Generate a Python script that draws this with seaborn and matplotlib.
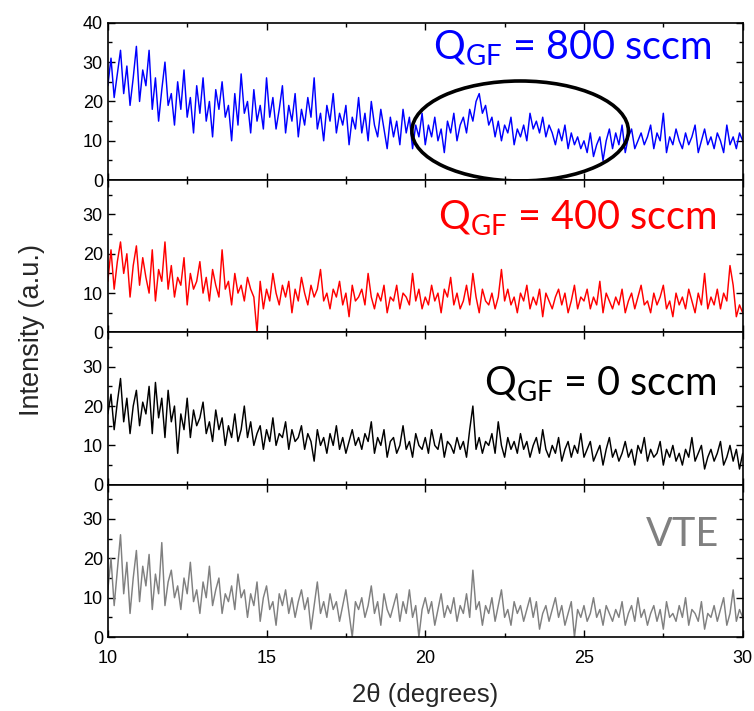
import numpy as np
import pandas as pd
import matplotlib
matplotlib.use("Agg")
import matplotlib.pyplot as plt
from matplotlib.patches import Ellipse
from matplotlib.ticker import MultipleLocator
import seaborn as sns

# ---------------- data (step 0.1 deg) ----------------
two_theta = np.round(np.linspace(10, 30, 201), 1)

q800 = [24, 31, 21, 27, 33, 22, 29, 19, 26, 34,
        20, 28, 24, 33, 18, 26, 15, 23, 30, 19,
        22, 14, 25, 18, 28, 16, 21, 12, 24, 17,
        26, 15, 20, 11, 23, 18, 25, 16, 19, 10,
        22, 14, 27, 17, 20, 12, 23, 15, 19, 13,
        26, 16, 21, 13, 18, 24, 12, 19, 15, 22,
        11, 18, 14, 21, 16, 26, 13, 17, 10, 19,
        15, 22, 12, 17, 14, 19, 9, 16, 13, 21,
        12, 17, 10, 20, 14, 11, 18, 13, 8, 16,
        11, 15, 9, 18, 12, 16, 8, 14, 11, 17,
        9, 14, 11, 16, 10, 13, 7, 15, 12, 17,
        10, 14, 16, 12, 18, 15, 20, 22, 17, 19,
        14, 16, 11, 15, 10, 14, 12, 16, 9, 13,
        11, 14, 10, 17, 13, 15, 12, 16, 11, 14,
        12, 9, 13, 10, 14, 8, 12, 9, 11, 8,
        10, 7, 12, 6, 9, 11, 5, 10, 13, 8,
        12, 9, 14, 7, 11, 13, 8, 10, 12, 9,
        11, 14, 8, 12, 10, 17, 7, 11, 9, 13,
        10, 8, 12, 9, 11, 14, 7, 10, 13, 9,
        11, 8, 12, 10, 7, 14, 9, 11, 8, 12,
        10]

q400 = [13, 21, 11, 18, 23, 15, 20, 9, 17, 22,
        12, 19, 14, 10, 21, 8, 16, 13, 23, 11,
        17, 9, 14, 12, 19, 7, 15, 11, 13, 18,
        10, 14, 8, 16, 12, 9, 21, 11, 13, 7,
        15, 10, 12, 8, 14, 11, 9, 0, 13, 6,
        11, 8, 15, 10, 7, 12, 9, 13, 5, 11,
        8, 14, 10, 7, 12, 9, 11, 16, 8, 10,
        6, 11, 9, 13, 7, 10, 4, 12, 8, 9,
        11, 7, 15, 9, 6, 10, 8, 12, 5, 9,
        8, 12, 6, 10, 9, 7, 15, 8, 11, 6,
        9, 7, 12, 8, 10, 5, 11, 9, 14, 7,
        10, 6, 8, 12, 7, 15, 9, 5, 11, 8,
        7, 10, 6, 9, 16, 8, 11, 7, 9, 5,
        10, 8, 12, 6, 9, 7, 11, 4, 10, 8,
        6, 9, 11, 7, 10, 5, 8, 12, 6, 9,
        8, 11, 6, 9, 7, 13, 5, 10, 8, 6,
        9, 7, 11, 5, 8, 10, 6, 9, 12, 7,
        8, 5, 10, 7, 9, 12, 6, 8, 4, 10,
        7, 9, 6, 11, 8, 5, 10, 7, 15, 6,
        9, 7, 11, 6, 10, 8, 17, 12, 4, 7,
        5]

q0 = [18, 23, 14, 21, 27, 16, 22, 13, 20, 24,
      15, 21, 18, 25, 13, 26, 17, 22, 12, 24,
      16, 20, 8, 18, 14, 22, 12, 19, 15, 17,
      21, 13, 16, 11, 19, 14, 17, 10, 15, 12,
      18, 11, 14, 20, 12, 16, 10, 13, 15, 9,
      14, 11, 17, 10, 13, 12, 16, 9, 14, 11,
      12, 15, 9, 13, 11, 6, 14, 10, 12, 8,
      13, 10, 15, 9, 12, 8, 11, 14, 10, 12,
      9, 13, 11, 16, 8, 12, 10, 14, 7, 11,
      12, 8, 10, 15, 9, 11, 7, 13, 10, 9,
      12, 8, 14, 10, 9, 13, 7, 11, 10, 8,
      12, 9, 11, 7, 14, 20, 9, 12, 8, 11,
      10, 13, 8, 16, 10, 7, 12, 9, 11, 8,
      13, 9, 11, 7, 10, 12, 8, 14, 9, 7,
      10, 8, 12, 6, 9, 11, 7, 10, 8, 13,
      7, 9, 11, 6, 8, 10, 5, 9, 12, 7,
      9, 6, 8, 11, 7, 9, 5, 10, 8, 12,
      6, 9, 7, 8, 11, 5, 9, 7, 10, 6,
      8, 5, 9, 7, 12, 6, 8, 10, 4, 7,
      9, 6, 8, 11, 5, 7, 10, 6, 9, 4,
      8]

vte = [12, 20, 8, 17, 26, 11, 19, 6, 15, 22,
       9, 18, 13, 21, 7, 16, 11, 24, 8, 14,
       17, 10, 13, 7, 15, 11, 19, 9, 12, 6,
       14, 10, 18, 8, 12, 15, 6, 11, 9, 13,
       7, 16, 10, 12, 5, 11, 8, 14, 4, 10,
       13, 7, 9, 3, 11, 8, 12, 6, 10, 5,
       9, 12, 7, 10, 2, 8, 14, 6, 9, 5,
       11, 7, 9, 4, 8, 12, 6, 0, 9, 7,
       10, 5, 8, 13, 6, 9, 3, 11, 7, 5,
       8, 11, 4, 9, 6, 12, 5, 8, 0, 7,
       10, 6, 9, 3, 7, 11, 5, 8, 6, 10,
       4, 8, 6, 11, 5, 17, 7, 9, 3, 8,
       6, 10, 4, 8, 12, 5, 7, 3, 9, 6,
       8, 4, 7, 10, 5, 9, 2, 6, 8, 4,
       7, 10, 5, 8, 3, 6, 9, 0, 7, 5,
       8, 4, 6, 10, 5, 7, 3, 8, 6, 4,
       7, 5, 9, 3, 6, 8, 4, 10, 5, 7,
       3, 6, 8, 4, 7, 2, 9, 5, 6, 4,
       8, 5, 10, 3, 7, 6, 4, 9, 2, 6,
       5, 8, 4, 7, 10, 3, 6, 12, 4, 7,
       5]

series_names = ["800 sccm", "400 sccm", "0 sccm", "VTE"]
series_labels = [r"$\mathrm{Q}_{\mathrm{GF}}$ = 800 sccm",
                 r"$\mathrm{Q}_{\mathrm{GF}}$ = 400 sccm",
                 r"$\mathrm{Q}_{\mathrm{GF}}$ = 0 sccm",
                 "VTE"]
series_values = [q800, q400, q0, vte]
series_colors = ["#0000ff", "#ff0000", "#000000", "#808080"]

df = pd.concat([pd.DataFrame({"two_theta": two_theta, "intensity": v, "sample": n})
                for n, v in zip(series_names, series_values)], ignore_index=True)

# ---------------- style ----------------
sns.set_style("ticks")
plt.rcParams["font.family"] = ["Liberation Sans", "DejaVu Sans"]
plt.rcParams["mathtext.fontset"] = "custom"
plt.rcParams["mathtext.rm"] = "Lato"
plt.rcParams["mathtext.it"] = "Lato:italic"
plt.rcParams["mathtext.bf"] = "Lato:bold"

fig, axes = plt.subplots(4, 1, figsize=(7.54, 7.11), dpi=100, sharex=True,
                         gridspec_kw={"height_ratios": [40, 38.7, 38.7, 38.7]})
fig.subplots_adjust(left=0.143, right=0.985, top=0.968, bottom=0.104, hspace=0)

ylims = [40, 38.7, 38.7, 38.7]
yticks = [[0, 10, 20, 30, 40], [0, 10, 20, 30], [0, 10, 20, 30], [0, 10, 20, 30]]
label_pos = [(29.0, 30.5), (29.18, 26.0), (29.18, 22.6), (29.27, 23.2)]

for i, ax in enumerate(axes):
    sub = df[df["sample"] == series_names[i]]
    sns.lineplot(data=sub, x="two_theta", y="intensity", ax=ax,
                 color=series_colors[i], lw=1.05, estimator=None, legend=False)
    ax.set_xlim(10, 30)
    ax.set_ylim(0, ylims[i])
    ax.set_yticks(yticks[i])
    ax.yaxis.set_minor_locator(MultipleLocator(5))
    ax.xaxis.set_major_locator(MultipleLocator(5))
    ax.xaxis.set_minor_locator(MultipleLocator(2.5))
    ax.tick_params(which="both", direction="in", top=True, right=True,
                   labelsize=13, width=1.0, colors="black")
    ax.tick_params(which="major", length=5)
    ax.tick_params(which="minor", length=3)
    ax.tick_params(axis="x", which="major", pad=9)
    for s in ax.spines.values():
        s.set_linewidth(1.2)
        s.set_color("black")
    ax.set_xlabel("")
    ax.set_ylabel("")
    tx, ty = label_pos[i]
    ax.text(tx, ty, series_labels[i], color=series_colors[i], fontsize=28.5,
            family="Lato", ha="right", va="baseline")

axes[-1].set_xticks([10, 15, 20, 25, 30])
axes[-1].set_xlabel("2\u03b8 (degrees)", fontsize=18.5, labelpad=12)

ell = Ellipse((22.99, 12.5), width=6.82, height=25.4, fill=False,
              edgecolor="black", lw=2.6, clip_on=False, zorder=5)
axes[0].add_patch(ell)

fig.text(0.042, 0.536, "Intensity (a.u.)", rotation=90, fontsize=19.5,
         ha="center", va="center")

fig.savefig("out.png", dpi=100)
